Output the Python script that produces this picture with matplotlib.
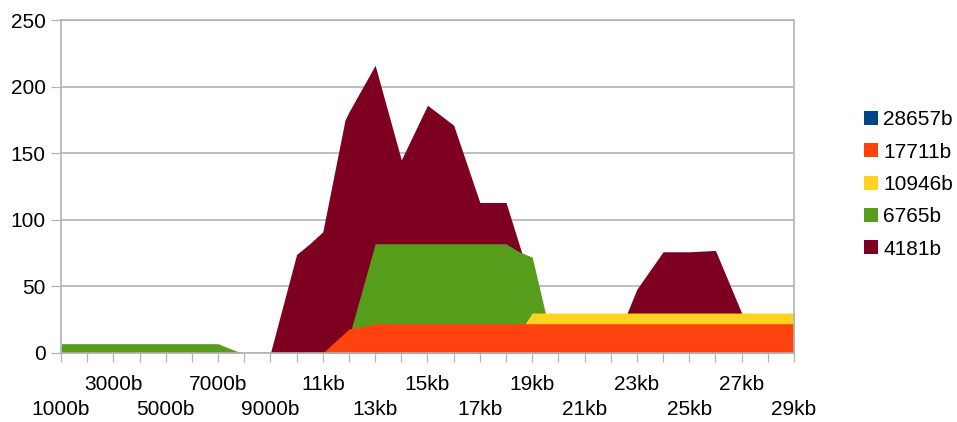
import matplotlib
matplotlib.use("Agg")
import matplotlib.pyplot as plt
from matplotlib.patches import Patch

plt.rcParams['font.family'] = ['Liberation Sans', 'DejaVu Sans']

# series names as in the legend (top to bottom)
series_names = ['28657b', '17711b', '10946b', '6765b', '4181b']
colors = {'28657b': '#004586', '17711b': '#ff420e', '10946b': '#ffd320',
          '6765b': '#579d1c', '4181b': '#7e0021'}

# x in kb
x_4181 = [1, 9, 10, 10.5, 11, 11.85, 12, 13, 14, 15, 16, 17, 18, 19, 20, 22, 23, 24, 25, 26, 27, 28, 29]
y_4181 = [0, 0, 74, 82, 91, 175, 181, 216, 145, 186, 171, 113, 113, 50, 0, 0, 48, 76, 76, 77, 30, 0, 0]

x_6765 = [1, 7, 7.3, 7.9, 11, 12, 13, 18, 18.5, 19, 19.86, 29]
y_6765 = [7, 7, 4.5, 0, 0, 12, 82, 82, 76, 72, 0, 0]

x_10946 = [1, 18, 19, 29]
y_10946 = [0, 0, 30, 30]

x_17711 = [1, 11, 12, 13, 29]
y_17711 = [0, 0, 18, 22, 22]

x_28657 = [1, 29]
y_28657 = [0, 0]

# category axis: 1000b .. 29kb
cat_kb = list(range(1, 30))

fig = plt.figure(figsize=(9.57, 4.22), dpi=100)
ax = fig.add_axes([61 / 957, 1 - 353 / 422, (794 - 61) / 957, (353 - 20) / 422])

grid_c = '#b3b3b3'
ax.set_axisbelow(True)
ax.yaxis.grid(True, color=grid_c, linewidth=1.2)

# back to front
data = [('4181b', x_4181, y_4181), ('6765b', x_6765, y_6765),
        ('10946b', x_10946, y_10946), ('17711b', x_17711, y_17711),
        ('28657b', x_28657, y_28657)]
for name, xs, ys in data:
    ax.fill_between(xs, 0, ys, color=colors[name], linewidth=0, zorder=2)

ax.set_xlim(1, 29)
ax.set_ylim(0, 250)
ax.set_yticks([0, 50, 100, 150, 200, 250])

labels = []
lower = []
for k in cat_kb:
    if k % 2 == 0:
        labels.append('')
        lower.append(False)
        continue
    labels.append(f'{k * 1000}b' if k < 10 else f'{k}kb')
    lower.append(((k - 1) // 2) % 2 == 0)
ax.set_xticks(cat_kb)
ax.set_xticklabels(labels, fontsize=15)

ax.tick_params(axis='x', length=6.5, width=0.9, color=grid_c)
ax.tick_params(axis='y', length=7.5, width=0.9, color=grid_c, pad=3.5, labelsize=15)

# staggered labels: two rows
for tick, low in zip(ax.xaxis.get_major_ticks(), lower):
    tick.set_pad(27 if low else 9)

for s in ax.spines.values():
    s.set_color(grid_c)
    s.set_linewidth(1.2)

handles = [Patch(facecolor=colors[n], edgecolor='none') for n in series_names]
fig.legend(handles, series_names, loc='center left',
           bbox_to_anchor=(864 / 957, 1 - 184.5 / 422), frameon=False,
           fontsize=15, borderpad=0, borderaxespad=0, handlelength=0.67,
           handleheight=0.67, handletextpad=0.25, labelspacing=0.64)

fig.savefig('out.png', dpi=100)
